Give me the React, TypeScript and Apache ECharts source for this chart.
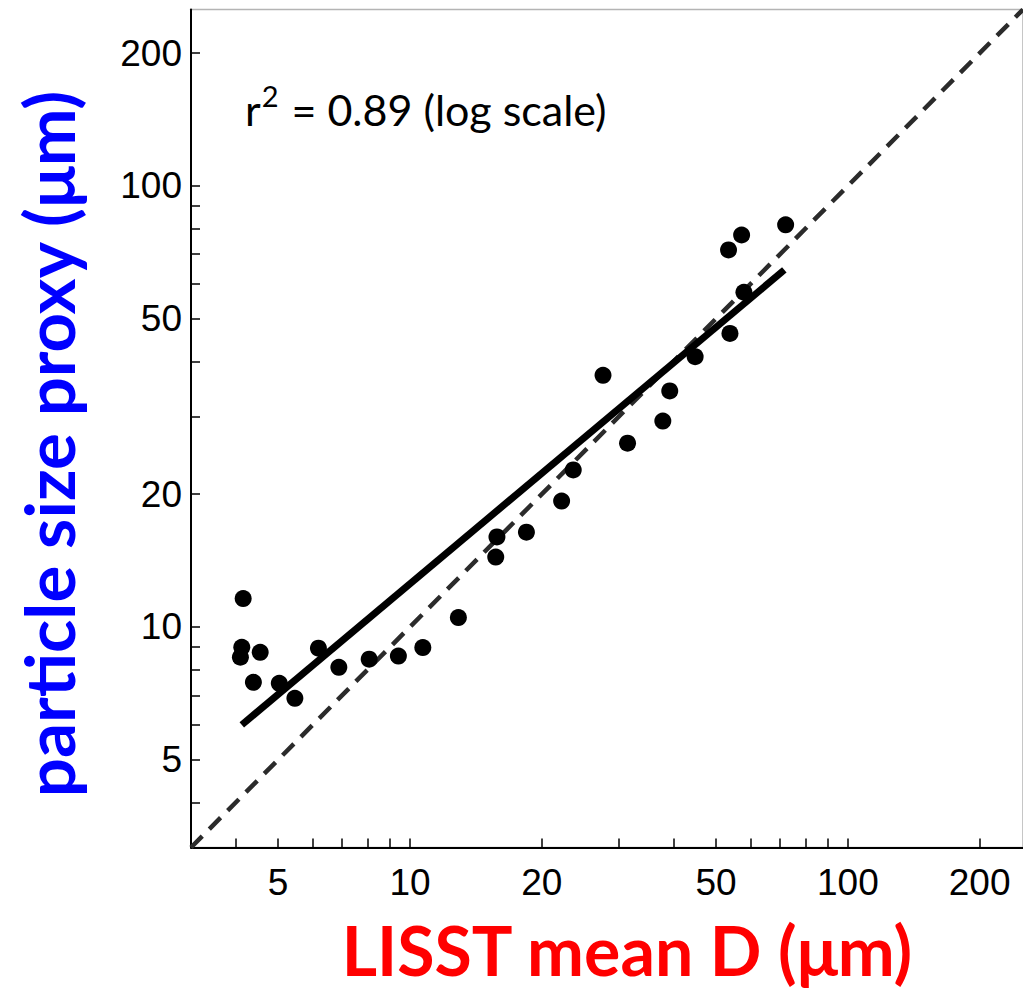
import React, { useEffect, useRef } from 'react';
import * as echarts from 'echarts';

// LISST mean D (µm) vs particle size proxy (µm)
const lisstMeanD = [4.16, 4.13, 4.10, 4.55, 4.39, 5.03, 5.46, 6.18, 6.88, 8.07, 9.41, 10.7, 12.9, 15.7, 15.8, 18.45, 22.2, 23.6, 27.6, 31.4, 37.8, 39.2, 44.8, 53.8, 57.9, 53.4, 57.2, 72.1];
const sizeProxy = [11.6, 8.99, 8.54, 8.76, 7.49, 7.45, 6.89, 8.95, 8.10, 8.45, 8.59, 8.98, 10.5, 14.4, 16.0, 16.4, 19.3, 22.7, 37.2, 26.1, 29.3, 34.3, 41.0, 46.3, 57.4, 71.6, 77.4, 81.6];

// regression line endpoints (log-log fit)
const fitX = [4.13, 71.6];
const fitY = [6.0, 64.5];

const axisMin = 3.162;
const axisMax = 251.2;
const tickValues = [4, 5, 6, 7, 8, 9, 10, 20, 30, 40, 50, 60, 70, 80, 90, 100, 200];
const labelValues = [5, 10, 20, 50, 100, 200];

const xTitle = 'LISST mean D (μm)';
const yTitle = 'particle size proxy (μm)';
const annotation = { r2: '0.89', note: '(log scale)' };

function makeAxis(isX: boolean) {
  return {
    type: 'log',
    logBase: 10,
    min: axisMin,
    max: axisMax,
    axisLine: { show: true, onZero: false, lineStyle: { color: '#000', width: 2 } },
    axisTick: {
      show: true,
      inside: true,
      length: 9,
      customValues: tickValues,
      lineStyle: { color: '#000', width: 1.5 },
    },
    axisLabel: {
      show: true,
      customValues: labelValues,
      margin: isX ? 16 : 9,
      fontFamily: 'Liberation Sans',
      fontSize: 37,
      color: '#000',
      formatter: (v: number) => String(Math.round(v)),
    },
    splitLine: { show: false },
    minorTick: { show: false },
    minorSplitLine: { show: false },
  };
}

export default function App() {
  const ref = useRef<HTMLDivElement>(null);
  useEffect(() => {
    if (!ref.current) return;
    const chart = echarts.init(ref.current, null, { renderer: 'svg' });
    const points = lisstMeanD.map((x, i) => [x, sizeProxy[i]]);
    const fit = fitX.map((x, i) => [x, fitY[i]]);
    const option = {
      animation: false,
      backgroundColor: '#fff',
      grid: {
        left: 191,
        top: 9.5,
        width: 837,
        height: 838,
        show: true,
        borderColor: '#b4b4b4',
        borderWidth: 1.5,
        backgroundColor: 'transparent',
      },
      xAxis: makeAxis(true),
      yAxis: makeAxis(false),
      series: [
        {
          name: '1:1',
          type: 'line',
          data: [[axisMin, axisMin], [axisMax, axisMax]],
          symbol: 'none',
          silent: true,
          lineStyle: { color: '#2b2b2b', width: 4.5, type: [16, 10] },
          z: 2,
        },
        {
          name: 'fit',
          type: 'line',
          data: fit,
          symbol: 'none',
          silent: true,
          lineStyle: { color: '#000', width: 7, cap: 'butt' },
          z: 3,
        },
        {
          name: 'data',
          type: 'scatter',
          data: points,
          symbol: 'circle',
          symbolSize: 17,
          itemStyle: { color: '#000', opacity: 1 },
          z: 4,
        },
      ],
      graphic: [
        {
          type: 'text',
          x: 245,
          y: 106,
          style: {
            text: `{a|r}{s|2}{a| = ${annotation.r2} ${annotation.note}}`,
            verticalAlign: 'middle',
            rich: {
              a: { fontFamily: 'Lato', fontSize: 43, fill: '#000', color: '#000', lineHeight: 50, verticalAlign: 'bottom' },
              s: { fontFamily: 'Lato', fontSize: 29, fill: '#000', color: '#000', lineHeight: 50, verticalAlign: 'top', padding: [0, 2, 0, 1] },
            },
          },
        },
        {
          type: 'text',
          x: 627,
          y: 949,
          style: {
            text: xTitle,
            fontFamily: 'Lato',
            fontWeight: 'bold',
            fontSize: 68,
            fill: '#ff0000',
            align: 'center',
            verticalAlign: 'middle',
          },
        },
        {
          type: 'text',
          x: 48,
          y: 444,
          rotation: Math.PI / 2,
          style: {
            text: yTitle,
            fontFamily: 'Lato',
            fontWeight: 'bold',
            fontSize: 69,
            fill: '#0000ff',
            align: 'center',
            verticalAlign: 'middle',
          },
        },
      ],
    };
    chart.setOption(option as any);
    return () => chart.dispose();
  }, []);
  return (
    <div
      ref={ref}
      style={{ position: 'absolute', left: 0, top: 0, width: 1023, height: 991 }}
    />
  );
}
